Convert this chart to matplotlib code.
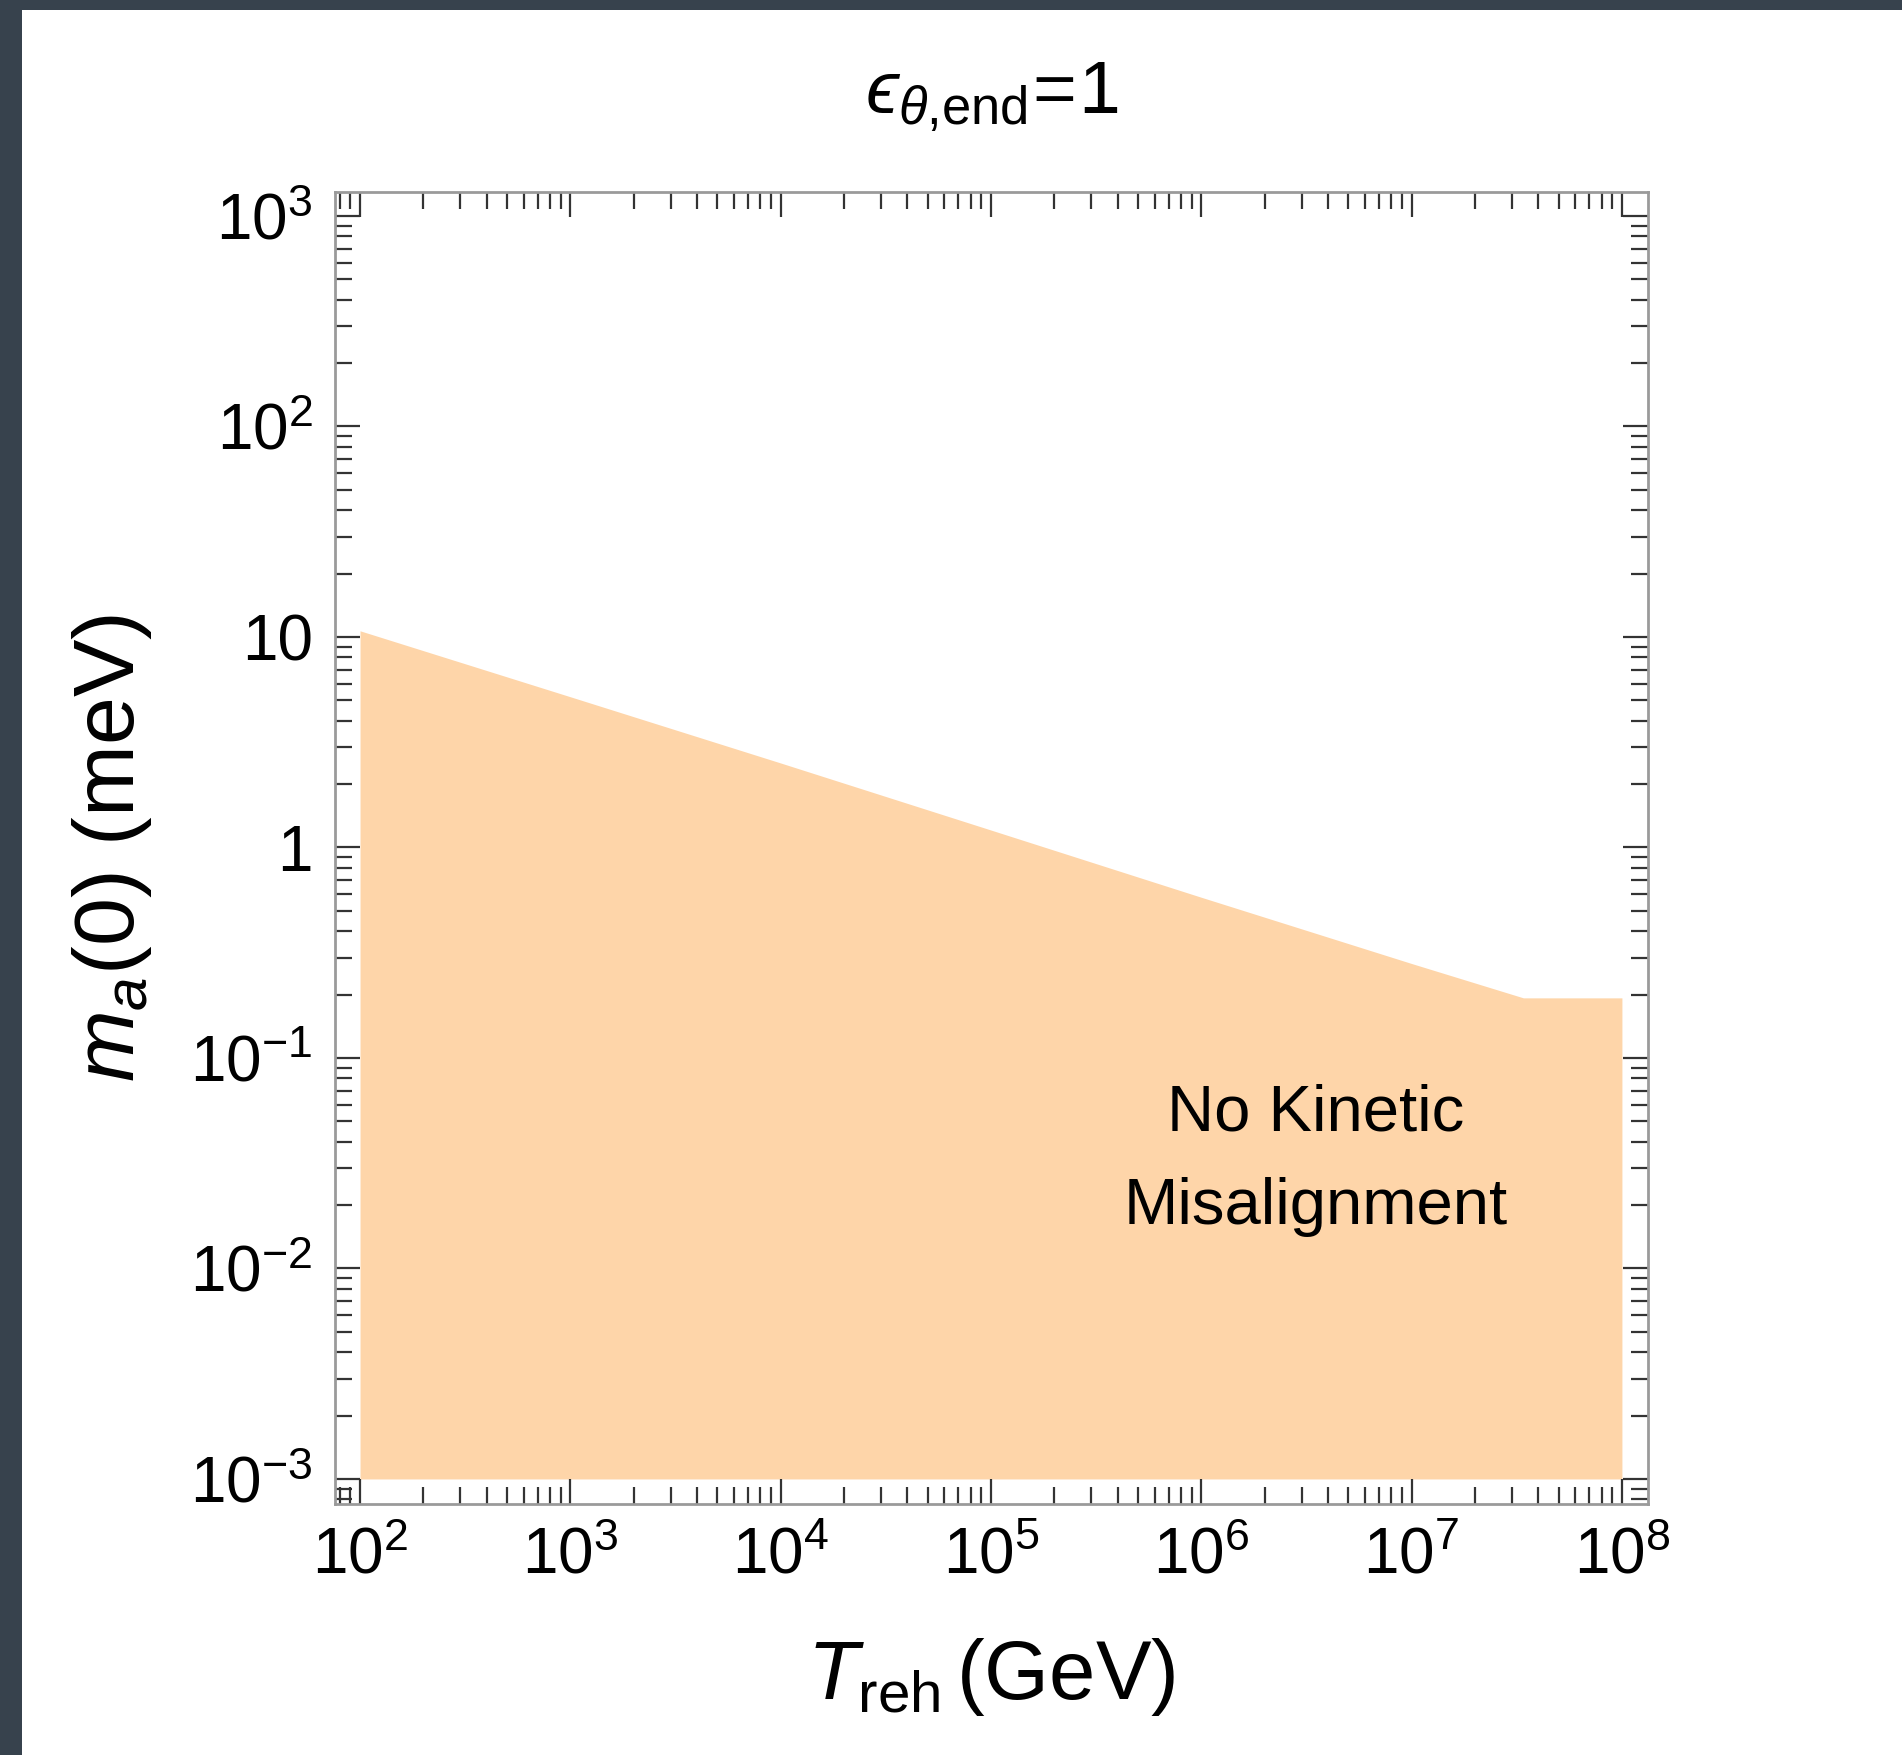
import matplotlib
matplotlib.use("Agg")
import matplotlib.pyplot as plt
from matplotlib.patches import Rectangle
from matplotlib.ticker import FixedLocator, LogLocator, NullFormatter

# ---- data ----
T_reh = [1e2, 1e3, 1e4, 1e5, 1e6, 1e7, 3.4e7, 1e8]          # GeV
m_a_upper = [10.7, 5.2, 2.52, 1.21, 0.58, 0.281, 0.193, 0.193]  # meV
m_a_lower = 1e-3

x_tick_values = [1e2, 1e3, 1e4, 1e5, 1e6, 1e7, 1e8]
x_tick_labels = [r'$10^{2}$', r'$10^{3}$', r'$10^{4}$', r'$10^{5}$',
                 r'$10^{6}$', r'$10^{7}$', r'$10^{8}$']
y_tick_values = [1e-3, 1e-2, 1e-1, 1, 10, 1e2, 1e3]
y_tick_labels = [r'$10^{-3}$', r'$10^{-2}$', r'$10^{-1}$', '1', '10',
                 r'$10^{2}$', r'$10^{3}$']

region_label = "No Kinetic\nMisalignment"
title_text = '$\u03f5_{\\theta{,}\\mathrm{end}}\\!=\\!1$'
xlabel_text = r'$T_{\mathrm{reh}}\,$(GeV)'
ylabel_text = r'$m_a$(0) (meV)'

# ---- style ----
plt.rcParams['font.family'] = ['Liberation Sans', 'DejaVu Sans']
plt.rcParams['mathtext.fontset'] = 'custom'
plt.rcParams['mathtext.rm'] = 'Liberation Sans'
plt.rcParams['mathtext.it'] = 'Liberation Sans:italic'
plt.rcParams['mathtext.bf'] = 'Liberation Sans:bold'
plt.rcParams['mathtext.fallback'] = 'stixsans'

fill_color = '#FED5A9'
frame_color = '#9a9a9a'
tick_color = '#333333'

W, H = 1902, 1755
fig = plt.figure(figsize=(W / 100, H / 100), dpi=100)
fig.patch.set_facecolor('white')

# dark screenshot border (left and top)
fig.patches.append(Rectangle((0, 0), 22 / W, 1, transform=fig.transFigure,
                             facecolor='#37424D', edgecolor='none', zorder=-10))
fig.patches.append(Rectangle((0, 1 - 10 / H), 1, 10 / H, transform=fig.transFigure,
                             facecolor='#37424D', edgecolor='none', zorder=-10))

ax = fig.add_axes([335 / W, 251 / H, 1313 / W, 1312 / H])
ax.set_xscale('log')
ax.set_yscale('log')

ax.fill_between(T_reh, m_a_lower, m_a_upper, color=fill_color, linewidth=0,
                zorder=1)

ax.set_xlim(10 ** 1.881, 10 ** 8.124)
ax.set_ylim(10 ** -3.119, 10 ** 3.114)

ax.xaxis.set_major_locator(FixedLocator(x_tick_values))
ax.set_xticklabels(x_tick_labels)
ax.yaxis.set_major_locator(FixedLocator(y_tick_values))
ax.set_yticklabels(y_tick_labels)
ax.xaxis.set_minor_locator(LogLocator(base=10, subs=range(2, 10), numticks=50))
ax.yaxis.set_minor_locator(LogLocator(base=10, subs=range(2, 10), numticks=50))
ax.xaxis.set_minor_formatter(NullFormatter())
ax.yaxis.set_minor_formatter(NullFormatter())

ax.tick_params(which='both', direction='in', top=True, right=True,
               color=tick_color, width=1.6)
ax.tick_params(which='major', length=18, labelsize=46, pad=16)
ax.tick_params(which='minor', length=12)

for sp in ax.spines.values():
    sp.set_color(frame_color)
    sp.set_linewidth(2)

ax.set_xlabel(xlabel_text, fontsize=60, va='center')
ax.xaxis.set_label_coords(0.5, -0.132)
ax.set_ylabel(ylabel_text, fontsize=62, va='center')
ax.yaxis.set_label_coords(-0.170, 0.5)

ax.set_title(title_text, fontsize=54, y=1.0724, va='center', pad=0)

ax.text(3.5e6, 0.0327, region_label, fontsize=47, ha='center', va='center',
        multialignment='center', linespacing=1.72, color='black', zorder=3)

fig.savefig('out.png', dpi=100)
